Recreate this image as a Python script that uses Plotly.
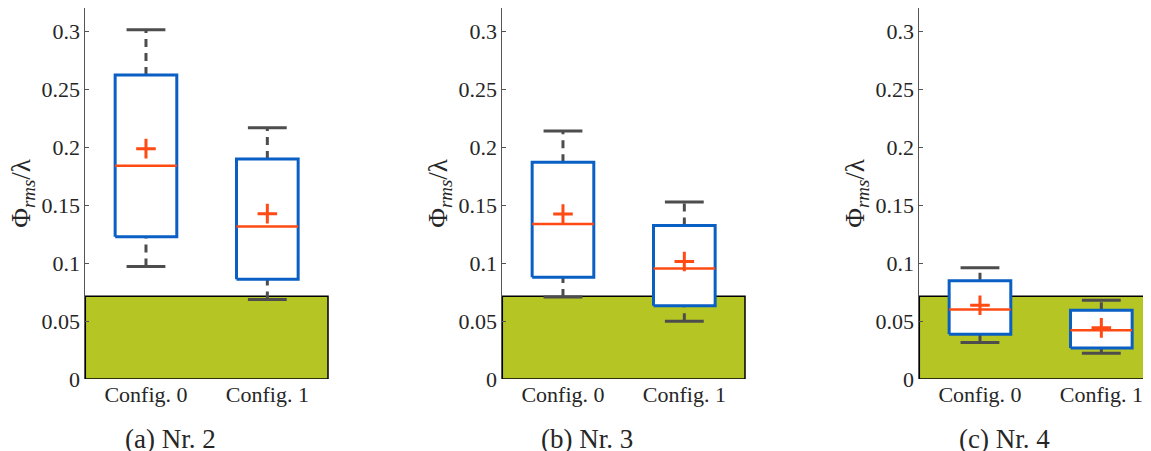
import plotly.graph_objects as go

# ---- data ----
panels = ["(a) Nr. 2", "(b) Nr. 3", "(c) Nr. 4"]
categories = ["Config. 0", "Config. 1"]
lower_cap = [[0.0971, 0.0685], [0.0708, 0.0498], [0.0314, 0.0222]]
q1 = [[0.1227, 0.0861], [0.0878, 0.0631], [0.0386, 0.0268]]
median = [[0.1840, 0.1316], [0.1336, 0.0953], [0.0599, 0.0420]]
mean = [[0.1987, 0.1426], [0.1423, 0.1014], [0.0636, 0.0441]]
q3 = [[0.2623, 0.1898], [0.1869, 0.1325], [0.0847, 0.0593]]
upper_cap = [[0.3012, 0.2168], [0.2140, 0.1526], [0.0959, 0.0680]]
threshold = 0.0714
yticks = [0, 0.05, 0.1, 0.15, 0.2, 0.25, 0.3]
ytick_text = ["0", "0.05", "0.1", "0.15", "0.2", "0.25", "0.3"]
ytitle = "Φ<sub><i>rms</i></sub>/λ"

# ---- style ----
# page body has an 8px margin, so the figure is 8px smaller than the window
W, H = 1143, 443
FONT = "Liberation Serif"
BLUE = "#0A5FC4"
ORANGE = "#FF4A14"
GREEN = "#B4C524"
GREY = "#4D4D4D"
AX = "#555555"
TXT = "#262626"
box_half = 0.254
cap_half = 0.16

plot_top, plot_bottom = 0, 371
left_px = [77.3, 494.3, 911.3]
panel_w = 242.7
overflow = left_px[2] + panel_w - W
x_ranges = [[-0.5, 1.5], [-0.5, 1.5], [-0.5, 1.5 - overflow / (panel_w / 2.0)]]

fig = go.Figure()

for p in range(3):
    xa = "x" if p == 0 else f"x{p+1}"
    ya = "y" if p == 0 else f"y{p+1}"
    for i in range(len(categories)):
        # whiskers (dashed)
        for a, b in [(q3[p][i], upper_cap[p][i]), (lower_cap[p][i], q1[p][i])]:
            fig.add_trace(go.Scatter(x=[i, i], y=[a, b], mode="lines",
                                     line=dict(color=GREY, width=3, dash="8px,6px"),
                                     xaxis=xa, yaxis=ya, showlegend=False, hoverinfo="skip"))
        # caps
        for c in [upper_cap[p][i], lower_cap[p][i]]:
            fig.add_trace(go.Scatter(x=[i - cap_half, i + cap_half], y=[c, c], mode="lines",
                                     line=dict(color=GREY, width=3),
                                     xaxis=xa, yaxis=ya, showlegend=False, hoverinfo="skip"))
        # box
        fig.add_trace(go.Scatter(
            x=[i - box_half, i + box_half, i + box_half, i - box_half, i - box_half],
            y=[q1[p][i], q1[p][i], q3[p][i], q3[p][i], q1[p][i]],
            mode="lines", fill="toself", fillcolor="white",
            line=dict(color=BLUE, width=3),
            xaxis=xa, yaxis=ya, showlegend=False, hoverinfo="skip"))
        # median
        fig.add_trace(go.Scatter(x=[i - box_half, i + box_half], y=[median[p][i], median[p][i]],
                                 mode="lines", line=dict(color=ORANGE, width=2.5),
                                 xaxis=xa, yaxis=ya, showlegend=False, hoverinfo="skip"))
        # mean
        fig.add_trace(go.Scatter(x=[i], y=[mean[p][i]], mode="markers",
                                 marker=dict(symbol="cross-thin", size=14,
                                             line=dict(color=ORANGE, width=3)),
                                 xaxis=xa, yaxis=ya, showlegend=False, hoverinfo="skip"))

    x1dom = 1.0 if p < 2 else 1.0 + overflow / (W - left_px[2])
    fig.add_shape(type="rect", xref=f"{xa} domain", yref=ya, x0=0, x1=x1dom,
                  y0=0, y1=threshold, fillcolor=GREEN, line=dict(color="black", width=1.5),
                  layer="below")

    dom_r = min(1.0, (left_px[p] + panel_w) / W)
    xkey = "xaxis" if p == 0 else f"xaxis{p+1}"
    ykey = "yaxis" if p == 0 else f"yaxis{p+1}"
    fig.update_layout(**{
        xkey: dict(domain=[left_px[p] / W, dom_r], range=x_ranges[p], anchor=ya,
                   tickvals=[0, 1], ticktext=categories, showgrid=False, zeroline=False,
                   showline=False, ticks="",
                   tickfont=dict(family=FONT, size=22, color=TXT)),
        ykey: dict(range=[0, 0.32], anchor=xa, tickvals=yticks, ticktext=ytick_text,
                   showgrid=False, zeroline=False, showline=True, linecolor=AX, linewidth=1,
                   ticks="inside", ticklen=4, tickcolor=AX,
                   tickfont=dict(family=FONT, size=22, color=TXT)),
    })

    fig.add_annotation(text=ytitle, xref="paper", yref="paper",
                       x=(left_px[p] - 63) / W, y=0.5, textangle=-90,
                       xanchor="center", yanchor="middle", showarrow=False,
                       font=dict(family=FONT, size=27, color=TXT))
    fig.add_annotation(text=panels[p], xref="paper", yref="paper",
                       x=(left_px[p] + 84.7) / W,
                       y=(plot_bottom - 431) / float(plot_bottom - plot_top),
                       xanchor="center", yanchor="middle", showarrow=False,
                       font=dict(family=FONT, size=27, color=TXT))

fig.update_layout(width=W, height=H,
                  margin=dict(l=0, r=0, t=plot_top, b=H - plot_bottom),
                  plot_bgcolor="white", paper_bgcolor="white")

fig.write_html("out.html")
